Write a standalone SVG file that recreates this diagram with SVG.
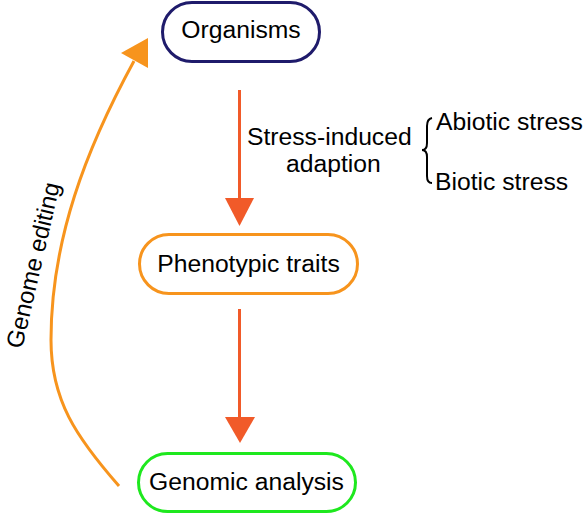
<svg xmlns="http://www.w3.org/2000/svg" width="585" height="516" viewBox="0 0 585 516">
<style>
text{font-family:"Liberation Sans",Arial,sans-serif;font-size:24.7px;fill:#000}
.box{fill:#fff;stroke-width:3}
.red{stroke:#f15a29;stroke-width:3;fill:none}
.redh{fill:#f15a29}
.or{stroke:#f7941d;stroke-width:3;fill:none}
.orh{fill:#f7941d}
</style>
<rect width="585" height="516" fill="#fff"/>
<g id="connectors">
<line class="red" x1="239.5" y1="90" x2="239.5" y2="202"/>
<polygon class="redh" points="225,198 254,198 239.5,226"/>
<line class="red" x1="239.5" y1="309" x2="239.5" y2="421"/>
<polygon class="redh" points="225,417 255,417 240,443"/>
<path class="or" d="M119,486 C76,437 51,400 51,340 C51,240 86,149 134,61"/>
<polygon class="orh" points="148,38 121,53 148,68"/>
</g>
<g id="organisms">
<rect class="box" x="162.5" y="2.5" width="157" height="59" rx="29.5" stroke="#1f1b6b"/>
<text x="241" y="38" text-anchor="middle">Organisms</text>
</g>
<g id="phenotypic">
<rect class="box" x="139.5" y="234.5" width="218" height="59" rx="29.5" stroke="#f7941d"/>
<text x="248.5" y="272" text-anchor="middle">Phenotypic traits</text>
</g>
<g id="genomic">
<rect class="box" x="138.5" y="453.5" width="217" height="58" rx="29" stroke="#1ee81e"/>
<text x="246.5" y="490" text-anchor="middle">Genomic analysis</text>
</g>
<g id="labels">
<text x="247" y="145">Stress-induced</text>
<text x="286" y="172">adaption</text>
<path d="M432,118 Q427,119 427,126 L427,143 Q427,150 422,150 Q427,150 427,157 L427,176 Q427,183 432,183" fill="none" stroke="#000" stroke-width="2"/>
<text x="436" y="130">Abiotic stress</text>
<text x="435" y="190">Biotic stress</text>
<text transform="translate(41,267) rotate(-77)" text-anchor="middle" style="font-size:24px">Genome editing</text>
</g>
</svg>
